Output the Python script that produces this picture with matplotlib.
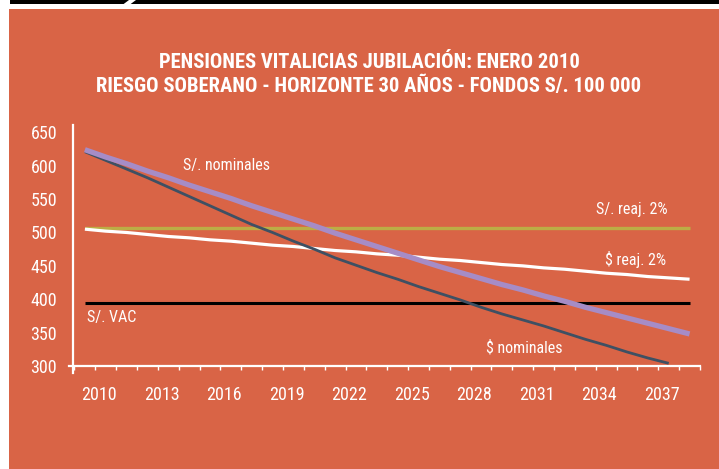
import matplotlib
matplotlib.use("Agg")
import matplotlib.pyplot as plt
from matplotlib import font_manager as fm
from matplotlib.font_manager import FontProperties
from matplotlib.patches import Rectangle, Polygon
from matplotlib.lines import Line2D
from matplotlib.transforms import ScaledTranslation

W, H = 719, 469

# ---------------- data ----------------
years = list(range(2010, 2040))
s_nominales = [624, 613, 603, 592, 582, 571, 561, 551, 540, 530,
               520, 510, 499, 489, 479, 469, 459, 449, 440, 431,
               422, 414, 405, 397, 388, 380, 372, 364, 356, 348]
usd_nominales = [621, 608, 595, 582, 568, 554, 540, 526, 512, 500,
                 487, 475, 462, 451, 440, 430, 419, 409, 399, 388,
                 378, 369, 360, 350, 340, 331, 321, 312, 304]
s_reaj = [506] * 30
usd_reaj = [505, 502, 500, 497, 494, 492, 489, 487, 484, 481,
            479, 476, 473, 471, 468, 466, 463, 460, 458, 455,
            452, 450, 447, 445, 442, 439, 437, 434, 432, 430]
s_vac = [395] * 30
label_years = [2010, 2013, 2016, 2019, 2022, 2025, 2028, 2031, 2034, 2037]
y_ticks = [300, 350, 400, 450, 500, 550, 600, 650]

title1 = "PENSIONES VITALICIAS JUBILACIÓN: ENERO 2010"
title2 = "RIESGO SOBERANO - HORIZONTE 30 AÑOS - FONDOS S/. 100 000"

# ---------------- colours ----------------
BG = "#D96446"
PURPLE = "#A68CC6"
DARK = "#3E5063"
OLIVE = "#BCAD45"


# ---------------- fonts: prefer a condensed sans ----------------
def find_condensed(bold):
    pref = ['Roboto Condensed', 'Liberation Sans Narrow', 'DejaVu Sans',
            'Noto Sans', 'Open Sans', 'Lato', 'Inter', 'Roboto']
    best = None
    for f in fm.fontManager.ttflist:
        name = f.name
        st = str(f.stretch).lower()
        fname = str(f.fname)
        cond = (('condensed' in st) or ('narrow' in name.lower()) or
                ('condensed' in name.lower()) or ('Condensed' in fname) or ('Narrow' in fname))
        if not cond or f.style != 'normal':
            continue
        if 'Mono' in name or 'Serif' in name or 'CJK' in name:
            continue
        w = f.weight
        if isinstance(w, str):
            w = fm.weight_dict.get(w, 400)
        if bold and w < 600:
            continue
        if not bold and (w < 300 or w > 500):
            continue
        rank = pref.index(name) if name in pref else len(pref)
        key = (rank, abs(w - (700 if bold else 400)))
        if best is None or key < best[0]:
            best = (key, fname)
    return best[1] if best else None


reg_path = find_condensed(False)
bold_path = find_condensed(True)
FP_REG = FontProperties(fname=reg_path) if reg_path else FontProperties(family=['Roboto', 'DejaVu Sans'])
FP_BOLD = (FontProperties(fname=bold_path) if bold_path
           else FontProperties(family=['Roboto', 'DejaVu Sans'], weight='bold'))

fig = plt.figure(figsize=(W / 100, H / 100), dpi=100)
fig.patch.set_facecolor("white")
renderer = fig.canvas.get_renderer()


def fitted_size(s, fp, target_w, max_size):
    t = fig.text(0, 0, s, fontproperties=fp)
    t.set_fontsize(12)
    w = t.get_window_extent(renderer).width
    t.remove()
    return min(max_size, 12 * target_w / w)


def fx(px):
    return px / W


def fy(py):
    return 1 - py / H


# orange panel
fig.add_artist(Rectangle((fx(9), 0), 1 - fx(9), fy(9), transform=fig.transFigure,
                         facecolor=BG, edgecolor="none", zorder=0))
# black top bar with white slash
fig.add_artist(Rectangle((fx(10), fy(4.5)), 1 - fx(10), 4.5 / H, transform=fig.transFigure,
                         facecolor="black", edgecolor="none", zorder=1))
fig.add_artist(Polygon([(fx(129), fy(0)), (fx(136), fy(0)), (fx(130), fy(4.5)), (fx(123), fy(4.5))],
                       closed=True, transform=fig.transFigure, facecolor="white",
                       edgecolor="none", zorder=2))

# axes
left, right, top, bottom = 73, 700, 125, 366
ax = fig.add_axes([fx(left), fy(bottom), fx(right) - fx(left), (bottom - top) / H])
ax.set_facecolor("none")
ax.set_xlim(2009.43, 2039.5)
ax.set_ylim(300, 661)
for s in ax.spines.values():
    s.set_visible(False)

ax.add_line(Line2D([0, 0], [-7 / (bottom - top), 1], transform=ax.transAxes,
                   color="white", lw=1.6, clip_on=False, zorder=3))
ax.add_line(Line2D([-4 / (right - left), 1], [0, 0], transform=ax.transAxes,
                   color="white", lw=1.6, clip_on=False, zorder=3))

# series
ax.plot(years, s_reaj, color=OLIVE, lw=2.4, solid_capstyle="butt", zorder=4)
ax.plot(years, s_vac, color="black", lw=2.2, solid_capstyle="butt", zorder=4)
ax.plot(years, usd_reaj, color="white", lw=2.3, solid_capstyle="butt", zorder=5)
ax.plot(years[:len(usd_nominales)], usd_nominales, color=DARK, lw=2.0,
        solid_capstyle="butt", zorder=6)
ax.plot(years, s_nominales, color=PURPLE, lw=3.8, solid_capstyle="butt", zorder=7)

# ticks
tick_size = 13.0
ax.set_yticks(y_ticks)
ax.set_yticklabels([str(v) for v in y_ticks])
ax.tick_params(axis="y", length=0, pad=11.5, labelcolor="white")

ax.set_xticks(label_years)
ax.set_xticklabels([str(y) for y in label_years])
ax.set_xticks([y - 0.5 for y in years] + [years[-1] + 0.5], minor=True)
ax.tick_params(axis="x", which="major", length=0, pad=14.5, labelcolor="white")
ax.tick_params(axis="x", which="minor", length=3.2, width=1.0, color="white", direction="out")
offset = ScaledTranslation(0.14, 0, fig.dpi_scale_trans)
for lab in ax.get_xticklabels():
    lab.set_fontproperties(FP_REG)
    lab.set_fontsize(tick_size)
    lab.set_transform(lab.get_transform() + offset)
for lab in ax.get_yticklabels():
    lab.set_fontproperties(FP_REG)
    lab.set_fontsize(tick_size)

# series labels
lab_size = 11.5
txt = dict(color="white", fontproperties=FP_REG, ha="center", va="center")
for x, y, s in [(2016.8, 601, "S/. nominales"), (2036.25, 534, "S/. reaj. 2%"),
                (2036.4, 460, "$ reaj. 2%"), (2031.05, 327, "$ nominales")]:
    t = ax.text(x, y, s, **txt)
    t.set_fontsize(lab_size)
t = ax.text(2010.1, 372, "S/. VAC", color="white", fontproperties=FP_REG, ha="left", va="center")
t.set_fontsize(lab_size)

# title
title_size = fitted_size(title2, FP_BOLD, 546, 15.5)
for py, s in [(62, title1), (86, title2)]:
    t = fig.text(fx(369), fy(py), s, color="white", fontproperties=FP_BOLD,
                 ha="center", va="center")
    t.set_fontsize(title_size)

fig.savefig("out.png", dpi=100, facecolor=fig.get_facecolor())
